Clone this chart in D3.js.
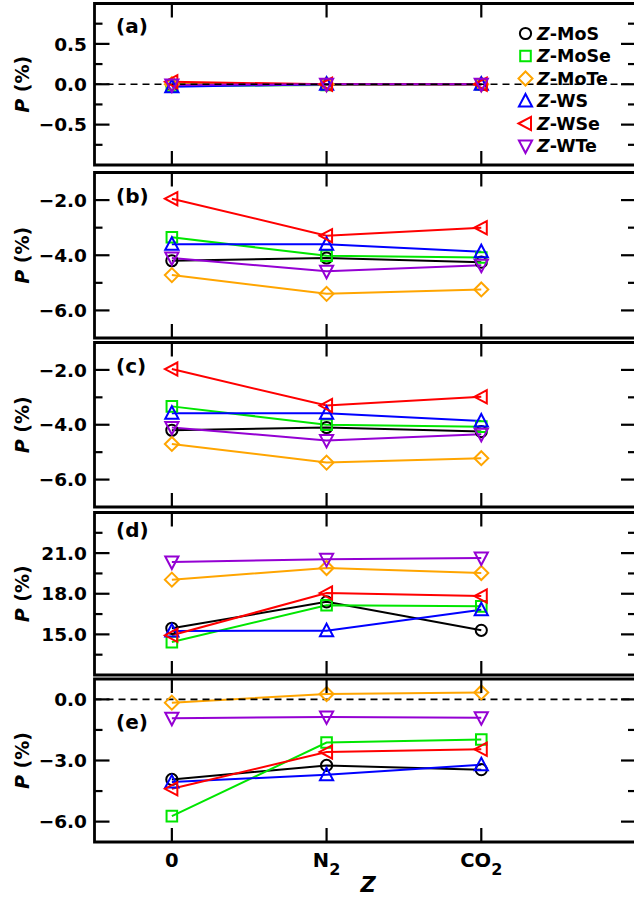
<!DOCTYPE html>
<html>
<head>
<meta charset="utf-8">
<script src="https://cdn.jsdelivr.net/npm/d3@7"></script>
<style>
  body { margin: 0; background: #fff; }
  svg { display: block; font-family: "DejaVu Sans", sans-serif; font-weight: bold; }
</style>
</head>
<body>
<div id="chart"></div>
<script>
/**
 * CONSTANTS AND GLOBALS
 * */
const width = 634,
  height = 899

const categories = ['0', 'N2', 'CO2']
const seriesNames = ['MoS', 'MoSe', 'MoTe', 'WS', 'WSe', 'WTe']
const colors = ['#000000', '#00e600', '#ffa500', '#0000ff', '#ff0000', '#9400d3']
const symbols = ['circle', 'square', 'diamond', 'triUp', 'triLeft', 'triDown']

// values per series (MoS, MoSe, MoTe, WS, WSe, WTe), one value per category
const valuesA = [
  [0.0, 0.0, 0.0],
  [-0.02, -0.01, 0.0],
  [0.0, 0.0, 0.0],
  [-0.03, 0.0, 0.0],
  [0.03, 0.0, 0.0],
  [-0.01, 0.0, 0.0]
]
const valuesB = [
  [-4.2, -4.1, -4.25],
  [-3.35, -4.02, -4.08],
  [-4.72, -5.4, -5.24],
  [-3.6, -3.6, -3.87],
  [-1.95, -3.29, -3.0],
  [-4.1, -4.58, -4.36]
]
const valuesC = [
  [-4.2, -4.1, -4.25],
  [-3.33, -4.0, -4.07],
  [-4.7, -5.38, -5.22],
  [-3.58, -3.58, -3.86],
  [-1.97, -3.3, -2.98],
  [-4.1, -4.57, -4.35]
]
const valuesD = [
  [15.45, 17.4, 15.3],
  [14.43, 17.15, 17.07],
  [19.04, 19.9, 19.53],
  [15.25, 15.27, 16.82],
  [14.93, 18.05, 17.83],
  [20.34, 20.54, 20.64]
]
const valuesE = [
  [-3.93, -3.24, -3.45],
  [-5.73, -2.12, -1.97],
  [-0.16, 0.26, 0.34],
  [-4.06, -3.7, -3.21],
  [-4.39, -2.58, -2.45],
  [-0.93, -0.86, -0.9]
]

const panels = [
  { label: '(a)', values: valuesA, domain: [-1, 1], major: [-0.5, 0, 0.5], minor: [-0.75, -0.25, 0.25, 0.75], zero: true },
  { label: '(b)', values: valuesB, domain: [-7, -1], major: [-6, -4, -2], minor: [-5, -3], zero: false },
  { label: '(c)', values: valuesC, domain: [-7, -1], major: [-6, -4, -2], minor: [-5, -3], zero: false },
  { label: '(d)', values: valuesD, domain: [12, 24], major: [15, 18, 21], minor: [13.5, 16.5, 19.5, 22.5], zero: false },
  { label: '(e)', values: valuesE, domain: [-7, 1], major: [-6, -3, 0], minor: [-4.5, -1.5], zero: true }
]

// layout (pixels)
const frameLeft = 94.5, frameRight = 636
const panelBoxes = [
  { top: 3.5, bottom: 165, labelY: 33 },
  { top: 172.5, bottom: 338, labelY: 203 },
  { top: 342.5, bottom: 507, labelY: 373 },
  { top: 512.5, bottom: 675, labelY: 537 },
  { top: 679, bottom: 842, labelY: 729 }
]

const x = d3.scaleLinear().domain([-0.5, 3]).range([frameLeft, frameRight])

const svg = d3.select('#chart')
  .append('svg')
  .attr('width', width)
  .attr('height', height)

function markerPath(type) {
  const p = d3.path()
  if (type === 'circle') { p.arc(0, 0, 5.6, 0, 2 * Math.PI); p.closePath() }
  else if (type === 'square') { p.rect(-5.3, -5.3, 10.6, 10.6) }
  else if (type === 'diamond') { p.moveTo(0, -7); p.lineTo(7, 0); p.lineTo(0, 7); p.lineTo(-7, 0); p.closePath() }
  else if (type === 'triUp') { p.moveTo(0, -7); p.lineTo(6.6, 5.5); p.lineTo(-6.6, 5.5); p.closePath() }
  else if (type === 'triDown') { p.moveTo(0, 7); p.lineTo(6.6, -5.5); p.lineTo(-6.6, -5.5); p.closePath() }
  else if (type === 'triLeft') { p.moveTo(-7, 0); p.lineTo(5.5, -6.6); p.lineTo(5.5, 6.6); p.closePath() }
  return p.toString()
}

panels.forEach((panel, i) => {
  const box = panelBoxes[i]
  const y = d3.scaleLinear().domain(panel.domain).range([box.bottom, box.top])
  const g = svg.append('g')

  // data lines
  const line = d3.line().x((d, j) => x(j)).y(d => y(d))
  g.selectAll('.series-line')
    .data(panel.values)
    .join('path')
    .attr('class', 'series-line')
    .attr('d', d => line(d))
    .attr('fill', 'none')
    .attr('stroke', (d, k) => colors[k])
    .attr('stroke-width', 2)

  // dashed zero line
  if (panel.zero) {
    g.append('line')
      .attr('x1', frameLeft).attr('x2', frameRight)
      .attr('y1', y(0)).attr('y2', y(0))
      .attr('stroke', '#000')
      .attr('stroke-width', 1.6)
      .attr('stroke-dasharray', '7,5')
  }

  // markers
  panel.values.forEach((vals, k) => {
    g.selectAll('.m' + k)
      .data(vals)
      .join('path')
      .attr('class', 'm' + k)
      .attr('d', markerPath(symbols[k]))
      .attr('transform', (d, j) => `translate(${x(j)},${y(d)})`)
      .attr('fill', 'none')
      .attr('stroke', colors[k])
      .attr('stroke-width', 2)
  })

  // frame
  g.append('path')
    .attr('d', `M${frameRight},${box.top}H${frameLeft}V${box.bottom}H${frameRight}`)
    .attr('fill', 'none')
    .attr('stroke', '#000')
    .attr('stroke-width', 2.8)

  // x ticks top and bottom (inward)
  categories.forEach((c, j) => {
    g.append('line').attr('x1', x(j)).attr('x2', x(j)).attr('y1', box.top).attr('y2', box.top + 14)
      .attr('stroke', '#000').attr('stroke-width', 2.2)
    g.append('line').attr('x1', x(j)).attr('x2', x(j)).attr('y1', box.bottom).attr('y2', box.bottom - 14)
      .attr('stroke', '#000').attr('stroke-width', 2.2)
  })

  // y ticks left and right (inward)
  const ticks = panel.major.map(v => ({ v, len: 15 })).concat(panel.minor.map(v => ({ v, len: 8 })))
  ticks.forEach(t => {
    g.append('line').attr('x1', frameLeft).attr('x2', frameLeft + t.len).attr('y1', y(t.v)).attr('y2', y(t.v))
      .attr('stroke', '#000').attr('stroke-width', 2.2)
    g.append('line').attr('x1', frameRight).attr('x2', frameRight - t.len).attr('y1', y(t.v)).attr('y2', y(t.v))
      .attr('stroke', '#000').attr('stroke-width', 2.2)
  })

  // y tick labels
  g.selectAll('.ylab')
    .data(panel.major)
    .join('text')
    .attr('class', 'ylab')
    .attr('x', 87)
    .attr('y', d => y(d))
    .attr('dy', '0.36em')
    .attr('text-anchor', 'end')
    .attr('font-size', 18.5)
    .text(d => d3.format('.1f')(d))

  // y axis title
  const yt = g.append('text')
    .attr('transform', `translate(29,${(box.top + box.bottom) / 2}) rotate(-90)`)
    .attr('text-anchor', 'middle')
    .attr('font-size', 19)
  yt.append('tspan').attr('font-style', 'italic').text('P')
  yt.append('tspan').text(' (%)')

  // panel label
  g.append('text')
    .attr('x', 116)
    .attr('y', box.labelY)
    .attr('font-size', 20)
    .text(panel.label)
})

// legend
const legend = svg.append('g')
seriesNames.forEach((name, k) => {
  const ly = 33.5 + k * 22.5
  legend.append('path')
    .attr('d', markerPath(symbols[k]))
    .attr('transform', `translate(525.5,${ly})`)
    .attr('fill', 'none')
    .attr('stroke', colors[k])
    .attr('stroke-width', 2)
  const t = legend.append('text')
    .attr('x', 537)
    .attr('y', ly)
    .attr('dy', '0.36em')
    .attr('font-size', 17.5)
  t.append('tspan').attr('font-style', 'italic').text('Z')
  t.append('tspan').text('-' + name)
})

// x tick labels with subscripts
const lastBox = panelBoxes[panelBoxes.length - 1]
categories.forEach((c, j) => {
  const t = svg.append('text')
    .attr('x', x(j))
    .attr('y', lastBox.bottom + 25)
    .attr('text-anchor', 'middle')
    .attr('font-size', 19.5)
  const m = c.match(/^([A-Z]+)(\d)$/)
  if (m) {
    t.append('tspan').text(m[1])
    t.append('tspan').attr('dy', 8).attr('font-size', 16).text(m[2])
  } else {
    t.text(c)
  }
})

svg.append('text')
  .attr('x', 368)
  .attr('y', lastBox.bottom + 50)
  .attr('text-anchor', 'middle')
  .attr('font-size', 21)
  .attr('font-style', 'italic')
  .text('Z')
</script>
</body>
</html>
